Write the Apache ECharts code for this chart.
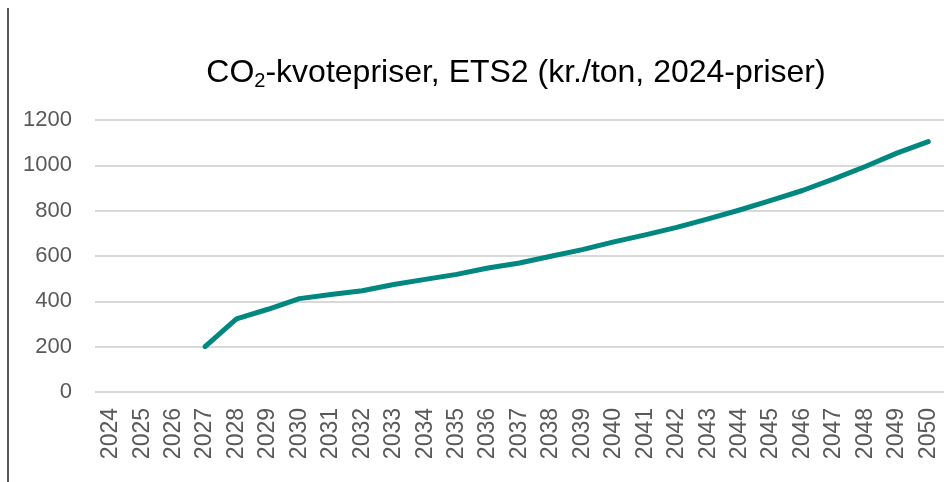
<!DOCTYPE html>
<html>
<head>
<meta charset="utf-8">
<script src="https://cdn.jsdelivr.net/npm/echarts@6/dist/echarts.min.js"></script>
<style>
  html, body { margin: 0; padding: 0; background: #fff; }
  #chart { width: 944px; height: 482px; }
</style>
</head>
<body>
<div id="chart"></div>
<script>
const years = ['2024', '2025', '2026', '2027', '2028', '2029', '2030', '2031', '2032', '2033',
  '2034', '2035', '2036', '2037', '2038', '2039', '2040', '2041', '2042', '2043',
  '2044', '2045', '2046', '2047', '2048', '2049', '2050'];
// kr./ton, 2024-priser (no values before 2027)
const prices = [null, null, null, 200, 323, 365, 412, 430, 447, 474,
  497, 519, 547, 569, 599, 628, 662, 693, 726, 764,
  803, 845, 889, 940, 995, 1054, 1105];
const yTicks = { min: 0, max: 1200, interval: 200 };

const font = 'Liberation Sans, Arial, sans-serif';
const chart = echarts.init(document.getElementById('chart'));

chart.setOption({
  animation: false,
  textStyle: { fontFamily: font },
  title: {
    text: '{a|CO}{s|2}{a|-kvotepriser, ETS2 (kr./ton, 2024-priser)}',
    left: 511,
    top: 51,
    textAlign: 'center',
    textStyle: {
      fontWeight: 'normal',
      rich: {
        a: { fontSize: 32, color: '#000', fontFamily: font, fontWeight: 'normal' },
        s: { fontSize: 20, color: '#000', padding: [15, 0, 0, 0], fontFamily: font, fontWeight: 'normal' }
      }
    }
  },
  grid: { left: 95, top: 120, width: 859, height: 272 },
  xAxis: {
    type: 'category',
    data: years,
    boundaryGap: true,
    axisLine: { show: false },
    axisTick: { show: false },
    axisLabel: { rotate: 90, margin: 16, fontSize: 23, color: '#595959', interval: 0 }
  },
  yAxis: {
    type: 'value',
    min: yTicks.min,
    max: yTicks.max,
    interval: yTicks.interval,
    axisLine: { show: false },
    axisTick: { show: false },
    axisLabel: { margin: 23, fontSize: 22, color: '#595959', formatter: v => String(v) },
    splitLine: { lineStyle: { color: '#d9d9d9', width: 2 } }
  },
  series: [
    {
      name: 'CO2-kvotepris',
      type: 'line',
      data: prices,
      showSymbol: false,
      connectNulls: false,
      lineStyle: { color: '#00877f', width: 5, cap: 'round', join: 'round' },
      itemStyle: { color: '#00877f' }
    }
  ],
  graphic: [
    {
      type: 'line',
      shape: { x1: 8, y1: 8, x2: 8, y2: 482 },
      style: { stroke: '#222', lineWidth: 1.5 }
    }
  ]
});
</script>
</body>
</html>
